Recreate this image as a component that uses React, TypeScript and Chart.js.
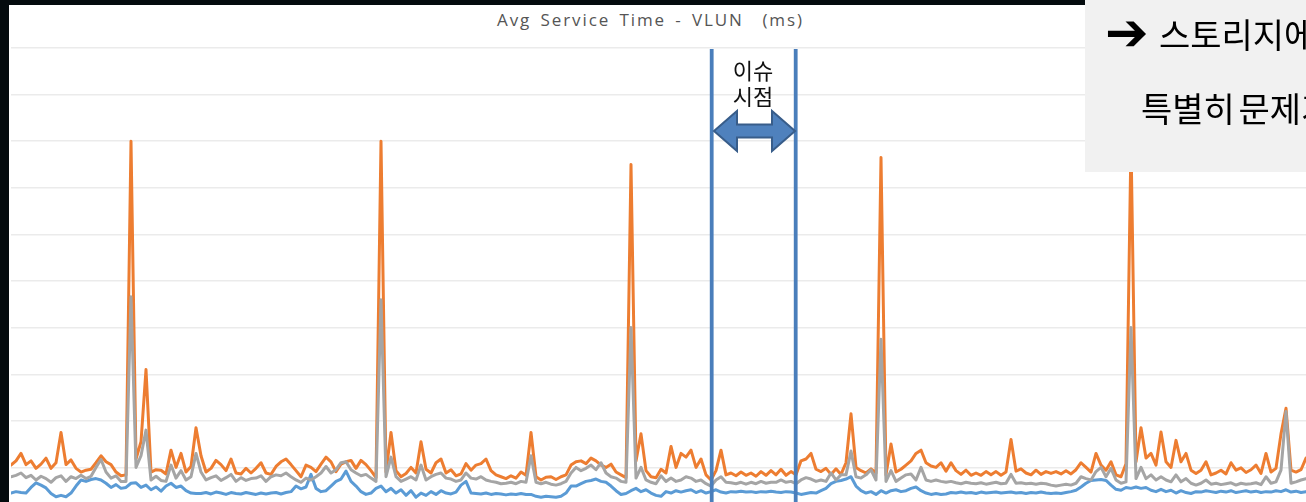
import React, { useEffect, useRef } from "react";
import { Chart, registerables } from "chart.js";

Chart.register(...registerables);

// Avg Service Time (ms) per sample
const orangeSeries = [
  1.05, 1.14, 1.3, 1.06, 1.14, 0.98, 1.07, 1.2, 0.98, 1.1,
  1.75, 1.06, 1.16, 0.98, 0.9, 0.94, 0.96, 1.1, 1.25, 1.12,
  1.06, 0.9, 0.82, 0.84, 8.0, 1.18, 1.55, 3.1, 0.9, 0.95,
  0.94, 0.86, 1.37, 1.0, 1.3, 0.9, 1.02, 1.85, 1.25, 0.9,
  0.98, 1.15, 1.06, 0.93, 1.18, 0.88, 0.86, 0.98, 0.88, 0.98,
  1.1, 0.88, 0.85, 1.02, 1.12, 1.18, 1.06, 0.93, 0.8, 1.05,
  1.0, 0.91, 1.07, 1.22, 1.12, 0.91, 1.07, 1.12, 1.15, 0.98,
  1.15, 1.06, 0.93, 0.78, 8.0, 0.9, 1.75, 0.93, 0.8, 0.87,
  1.0, 0.88, 1.55, 0.96, 0.88, 1.1, 1.18, 0.88, 0.95, 0.82,
  0.86, 1.08, 0.94, 1.05, 1.08, 1.18, 0.93, 0.84, 0.8, 0.76,
  0.82, 0.77, 0.9, 0.83, 1.75, 0.8, 0.73, 0.79, 0.8, 0.74,
  0.8, 0.84, 1.05, 1.12, 1.14, 1.08, 1.2, 1.14, 1.05, 1.0,
  1.07, 0.9, 0.84, 0.78, 7.5, 1.14, 1.72, 0.93, 0.8, 0.78,
  0.96, 0.88, 1.45, 1.0, 1.3, 1.22, 1.37, 1.0, 1.18, 0.84,
  0.73, 0.93, 1.37, 0.84, 0.88, 0.82, 0.9, 0.83, 0.88, 0.81,
  0.91, 0.83, 0.93, 0.84, 0.96, 0.83, 0.91, 0.84, 1.14, 1.18,
  1.3, 0.96, 0.91, 0.98, 0.85, 0.97, 0.85, 1.1, 2.15, 1.0,
  0.93, 0.88, 0.97, 0.88, 7.65, 0.84, 1.5, 0.9, 0.96, 1.05,
  1.14, 1.3, 1.37, 1.1, 1.03, 1.0, 1.1, 0.92, 1.1, 0.93,
  0.85, 0.94, 0.83, 0.88, 0.83, 0.91, 0.84, 0.91, 0.83, 0.9,
  1.6, 0.92, 0.97, 0.88, 0.84, 0.94, 0.85, 0.91, 0.87, 0.91,
  0.86, 0.93, 0.86, 0.95, 1.1, 1.0, 0.9, 1.3, 1.05, 0.94,
  1.12, 0.84, 0.8, 1.08, 8.0, 1.12, 1.85, 1.2, 1.3, 1.05,
  1.76, 1.12, 1.0, 1.58, 1.12, 1.3, 0.94, 0.87, 0.94, 1.12,
  0.84, 0.88, 0.94, 0.86, 1.1, 0.94, 0.99, 0.89, 0.95, 1.05,
  0.87, 1.3, 0.9, 0.98, 1.72, 2.27, 0.94, 0.9, 0.95, 1.2,
];

const graySeries = [
  0.8, 0.83, 0.88, 0.78, 0.83, 0.73, 0.81, 0.76, 0.68, 0.78,
  0.82, 0.7, 0.8, 0.76, 0.83, 0.76, 0.81, 1.0, 1.17, 0.9,
  0.77, 0.82, 0.7, 0.7, 4.66, 1.0, 1.25, 1.8, 0.73, 0.81,
  0.72, 0.7, 1.05, 0.77, 0.93, 0.73, 0.8, 1.3, 0.9, 0.73,
  0.78, 0.82, 0.72, 0.78, 0.85, 0.7, 0.78, 0.72, 0.76, 0.77,
  0.82, 0.7, 0.8, 0.84, 0.82, 0.88, 0.8, 0.73, 0.68, 0.77,
  0.73, 0.8, 0.88, 1.02, 0.88, 0.95, 1.1, 1.12, 0.95, 0.88,
  0.82, 0.85, 0.77, 0.7, 4.6, 0.8, 1.22, 0.8, 0.7, 0.75,
  0.8, 0.73, 1.05, 0.73, 0.8, 0.85, 0.88, 0.77, 0.75, 0.7,
  0.73, 0.88, 0.77, 0.75, 0.8, 0.73, 0.7, 0.68, 0.65, 0.66,
  0.68, 0.65, 0.7, 0.68, 1.25, 0.68, 0.65, 0.68, 0.64, 0.62,
  0.65, 0.7, 0.88, 1.0, 0.93, 0.98, 1.05, 0.95, 1.1, 0.88,
  0.8, 0.77, 0.7, 0.68, 4.0, 0.77, 1.0, 0.73, 0.68, 0.65,
  0.82, 0.7, 0.77, 0.7, 0.73, 0.8, 0.77, 0.7, 0.73, 0.65,
  0.6, 0.73, 0.8, 0.68, 0.67, 0.65, 0.68, 0.64, 0.68, 0.65,
  0.7, 0.66, 0.68, 0.68, 0.73, 0.68, 0.7, 0.65, 0.73, 0.78,
  0.75, 0.7, 0.73, 0.7, 0.88, 0.73, 0.84, 0.84, 1.35, 0.8,
  0.77, 0.84, 0.95, 0.73, 3.75, 0.7, 0.93, 0.7, 0.77, 0.84,
  0.86, 0.73, 1.0, 0.73, 0.7, 0.73, 0.7, 0.68, 0.7, 0.67,
  0.65, 0.68, 0.66, 0.65, 0.67, 0.64, 0.66, 0.68, 0.65, 0.66,
  0.85, 0.66, 0.67, 0.65, 0.66, 0.64, 0.66, 0.65, 0.62, 0.6,
  0.62, 0.64, 0.62, 0.66, 0.8, 0.76, 0.73, 0.91, 1.0, 0.8,
  0.98, 0.73, 0.66, 0.69, 4.0, 0.76, 1.0, 0.76, 0.84, 0.73,
  0.8, 0.73, 0.69, 0.84, 0.69, 0.76, 0.66, 0.62, 0.66, 0.73,
  0.64, 0.66, 0.63, 0.65, 0.67, 0.62, 0.66, 0.64, 0.65, 0.67,
  0.63, 0.8, 0.66, 0.69, 0.94, 2.2, 0.66, 0.69, 0.73, 0.76,
];

const blueSeries = [
  0.45, 0.48, 0.46, 0.45, 0.57, 0.67, 0.62, 0.56, 0.44, 0.37,
  0.4, 0.37, 0.45, 0.6, 0.73, 0.7, 0.74, 0.76, 0.73, 0.66,
  0.57, 0.63, 0.55, 0.57, 0.66, 0.67, 0.57, 0.62, 0.52, 0.58,
  0.49, 0.6, 0.66, 0.57, 0.6, 0.5, 0.45, 0.44, 0.44, 0.46,
  0.43, 0.47, 0.45, 0.42, 0.46, 0.44, 0.43, 0.46, 0.44, 0.42,
  0.45, 0.43, 0.45, 0.46, 0.43, 0.46, 0.48, 0.6, 0.54, 0.58,
  0.85, 0.55, 0.48, 0.5, 0.6, 0.7, 0.75, 0.92, 0.7, 0.6,
  0.48, 0.42, 0.45, 0.55, 0.6, 0.48, 0.55, 0.45, 0.52, 0.4,
  0.5, 0.36, 0.45, 0.4, 0.48, 0.42, 0.5, 0.45, 0.43, 0.47,
  0.62, 0.7, 0.45, 0.44, 0.43, 0.45, 0.42, 0.44, 0.43, 0.41,
  0.43, 0.42, 0.44, 0.42, 0.42, 0.38, 0.36, 0.38, 0.37, 0.36,
  0.38, 0.45, 0.6, 0.6, 0.65, 0.7, 0.72, 0.75, 0.7, 0.68,
  0.6, 0.5, 0.42, 0.44, 0.5, 0.55, 0.48, 0.52, 0.45, 0.4,
  0.38, 0.48, 0.45, 0.5, 0.47, 0.5, 0.52, 0.46, 0.5, 0.45,
  0.48, 0.52, 0.47, 0.45, 0.48, 0.47, 0.49, 0.47, 0.48, 0.46,
  0.48, 0.47, 0.49, 0.47, 0.46, 0.48, 0.47, 0.45, 0.42, 0.44,
  0.46, 0.45, 0.5, 0.55, 0.65, 0.7, 0.72, 0.75, 0.8, 0.6,
  0.5, 0.45, 0.48, 0.42, 0.5, 0.45, 0.5, 0.52, 0.48, 0.5,
  0.55, 0.58, 0.5, 0.45, 0.42, 0.44, 0.42, 0.43, 0.46, 0.45,
  0.47, 0.45, 0.46, 0.44, 0.47, 0.45, 0.46, 0.47, 0.45, 0.46,
  0.47, 0.45, 0.46, 0.44, 0.46, 0.45, 0.47, 0.45, 0.44, 0.45,
  0.44, 0.46, 0.48, 0.51, 0.58, 0.66, 0.72, 0.73, 0.74, 0.72,
  0.62, 0.53, 0.51, 0.57, 0.55, 0.58, 0.55, 0.57, 0.51, 0.48,
  0.53, 0.48, 0.51, 0.45, 0.5, 0.46, 0.44, 0.48, 0.47, 0.5,
  0.48, 0.46, 0.49, 0.47, 0.5, 0.46, 0.48, 0.5, 0.47, 0.49,
  0.46, 0.48, 0.47, 0.5, 0.48, 0.52, 0.47, 0.49, 0.46, 0.48,
];

const timeLabels = orangeSeries.map((_, i) => `T${i + 1}`);
const yAxisMin = 0;
const yAxisMax = 10;
const yAxisStep = 1;

const chartTitle = "Avg Service Time - VLUN  (ms)";
const issueLines = ["이슈", "시점"];
const noteArrow = "➔";
const noteLines = ["스토리지에서는", "특별히 문제가 없음"];

export default function App() {
  const canvasRef = useRef<HTMLCanvasElement | null>(null);

  useEffect(() => {
    if (!canvasRef.current) return;
    const chart = new Chart(canvasRef.current, {
      type: "line",
      data: {
        labels: timeLabels,
        datasets: [
          {
            label: "Series 1",
            data: blueSeries,
            borderColor: "#5B9BD5",
            backgroundColor: "#5B9BD5",
            order: 3,
          },
          {
            label: "Series 2",
            data: orangeSeries,
            borderColor: "#ED7D31",
            backgroundColor: "#ED7D31",
            order: 2,
          },
          {
            label: "Series 3",
            data: graySeries,
            borderColor: "#A5A5A5",
            backgroundColor: "#A5A5A5",
            order: 1,
          },
        ],
      },
      options: {
        animation: false,
        responsive: false,
        maintainAspectRatio: false,
        layout: { padding: { top: 8, bottom: 6, left: 0, right: 0 } },
        elements: {
          point: { radius: 0, hoverRadius: 0 },
          line: { borderWidth: 3, tension: 0, borderJoinStyle: "round", borderCapStyle: "round" },
        },
        plugins: {
          legend: { display: false },
          tooltip: { enabled: false },
          title: { display: false },
        },
        scales: {
          x: { display: false, offset: false },
          y: {
            min: yAxisMin,
            max: yAxisMax,
            ticks: { display: false, stepSize: yAxisStep },
            border: { display: false },
            grid: { color: "#ebebeb", lineWidth: 1.4, drawTicks: false },
            afterFit: (scale: any) => {
              scale.width = 0;
            },
          },
        },
      },
    });
    return () => chart.destroy();
  }, []);

  return (
    <div
      style={{
        position: "fixed",
        left: 0,
        top: 0,
        width: 1306,
        height: 502,
        overflow: "hidden",
        background: "#040b0e",
      }}
    >
      <div style={{ position: "absolute", left: 9, top: 5, right: 0, bottom: 0, background: "#ffffff" }} />
      <div
        style={{
          position: "absolute",
          left: 0,
          width: 1301,
          top: 8,
          textAlign: "center",
          fontFamily: "'Open Sans', sans-serif",
          fontSize: 17,
          letterSpacing: "1.9px",
          wordSpacing: "3px",
          color: "#555555",
          whiteSpace: "pre",
        }}
      >
        {chartTitle}
      </div>
      <canvas
        ref={canvasRef}
        width={1295}
        height={480}
        style={{ position: "absolute", left: 11, top: 40, width: 1295, height: 480 }}
      />
      <svg
        width={1306}
        height={502}
        style={{ position: "absolute", left: 0, top: 0 }}
      >
        <line x1={711.7} y1={49} x2={711.7} y2={502} stroke="#4A7EBB" strokeWidth={3.8} />
        <line x1={795.7} y1={49} x2={795.7} y2={502} stroke="#4A7EBB" strokeWidth={3.8} />
        <polygon
          points="714,131 737,111 737,124.5 772,124.5 772,111 795,131 772,151 772,137.5 737,137.5 737,151"
          fill="#4F81BD"
          stroke="#385D8A"
          strokeWidth={2}
          strokeLinejoin="miter"
        />
      </svg>
      <div
        style={{
          position: "absolute",
          left: 713,
          width: 80,
          top: 56,
          textAlign: "center",
          fontFamily: "'Noto Sans CJK KR', sans-serif",
          fontSize: 22,
          lineHeight: "26px",
          color: "#111111",
        }}
      >
        {issueLines[0]}
        <br />
        {issueLines[1]}
      </div>
      <div
        style={{
          position: "absolute",
          left: 1085,
          top: 0,
          width: 221,
          height: 172,
          background: "#f1f1f1",
          overflow: "hidden",
        }}
      >
        <div
          style={{
            position: "absolute",
            left: 20,
            top: 6,
            whiteSpace: "nowrap",
            fontFamily: "'DejaVu Sans', sans-serif",
            fontWeight: 700,
            fontSize: 52,
            lineHeight: "52px",
            color: "#000000",
          }}
        >
          {noteArrow}
        </div>
        <div
          style={{
            position: "absolute",
            left: 74,
            top: 12,
            whiteSpace: "nowrap",
            fontFamily: "'Noto Sans CJK KR', sans-serif",
            fontWeight: 400,
            fontSize: 34,
            lineHeight: "44px",
            color: "#000000",
          }}
        >
          {noteLines[0]}
        </div>
        <div
          style={{
            position: "absolute",
            left: 56,
            top: 86,
            whiteSpace: "nowrap",
            fontFamily: "'Noto Sans CJK KR', sans-serif",
            fontWeight: 400,
            fontSize: 34,
            lineHeight: "44px",
            wordSpacing: "-4px",
            color: "#000000",
          }}
        >
          {noteLines[1]}
        </div>
      </div>
    </div>
  );
}
